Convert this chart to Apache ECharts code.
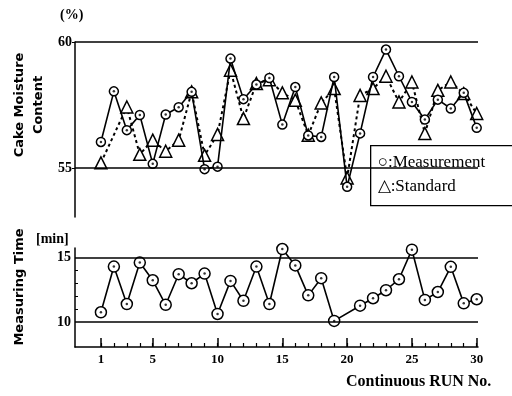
<!DOCTYPE html>
<html>
<head>
<meta charset="UTF-8">
<title>Cake moisture</title>
<script src="https://cdn.jsdelivr.net/npm/echarts@6/dist/echarts.min.js"></script>
<style>
  html, body { margin: 0; padding: 0; background: #fff; }
  #main { width: 512px; height: 396px; }
</style>
</head>
<body>
<div id="main"></div>
<script>
// run numbers (x axis)
var runs = [1, 2, 3, 4, 5, 6, 7, 8, 9, 10, 11, 12, 13, 14, 15, 16, 17, 18, 19, 20, 21, 22, 23, 24, 25, 26, 27, 28, 29, 30];
var runLabels = [1, 5, 10, 15, 20, 25, 30];
// cake moisture content (%)
var measurement = [56.03, 58.04, 56.50, 57.10, 55.16, 57.12, 57.41, 58.02, 54.95, 55.05,
                   59.34, 57.73, 58.31, 58.57, 56.72, 58.21, 56.29, 56.23, 58.61, 54.25,
                   56.37, 58.61, 59.70, 58.64, 57.62, 56.92, 57.71, 57.36, 57.98, 56.59];
var standard = [55.20, null, 57.42, 55.54, 56.10, 55.66, 56.10, 58.02, 55.50, 56.33,
                58.88, 56.96, 58.35, 58.50, 57.98, 57.69, 56.30, 57.58, 58.15, 54.60,
                57.88, 58.15, 58.64, 57.62, 58.41, 56.37, 58.08, 58.41, 57.95, 57.16];
var moistureTicks = [55, 60];
// measuring time (min)
var measTime = [10.77, 14.31, 11.41, 14.62, 13.25, 11.35, 13.72, 13.02, 13.77, 10.64,
                13.20, 11.66, 14.31, 11.41, 15.67, 14.40, 12.08, 13.41, 10.10, null,
                11.28, 11.86, 12.48, 13.33, 15.62, 11.73, 12.34, 14.29, 11.46, 11.78];
var timeTicks = [10, 15];
var timeMinor = [11, 12, 13, 14];

function pairs(vals) {
    return runs.map(function (r, i) { return [r, vals[i]]; });
}

var serif = 'Liberation Serif';
var sans = 'DejaVu Sans';

var chart = echarts.init(document.getElementById('main'));

chart.setOption({
    animation: false,
    grid: [
        { left: 75, top: 42, width: 403, height: 175 },
        { left: 75, top: 248, width: 403, height: 99 }
    ],
    xAxis: [
        { gridIndex: 0, type: 'value', min: -1, max: 30.1, show: false },
        {
            gridIndex: 1, type: 'value', min: -1, max: 30.1, position: 'bottom',
            splitLine: { show: false },
            axisLine: { onZero: false, lineStyle: { color: '#000', width: 1.5 } },
            axisTick: { customValues: runLabels, inside: true, length: 9, lineStyle: { color: '#000', width: 1.5 } },
            axisLabel: { customValues: runLabels, color: '#000', fontFamily: serif, fontWeight: 'bold', fontSize: 13, margin: 6 }
        },
        {
            gridIndex: 1, type: 'value', min: -1, max: 30.1, position: 'bottom',
            splitLine: { show: false },
            axisLine: { show: false, onZero: false },
            axisTick: { customValues: runs, inside: true, length: 4, lineStyle: { color: '#000', width: 1.2 } },
            axisLabel: { show: false }
        }
    ],
    yAxis: [
        {
            gridIndex: 0, type: 'value', min: 53.05, max: 60,
            splitLine: { show: false },
            axisLine: { show: true, onZero: false, lineStyle: { color: '#000', width: 1.5 } },
            axisTick: { customValues: moistureTicks, length: 3, lineStyle: { color: '#000' } },
            axisLabel: { customValues: moistureTicks, color: '#000', fontFamily: serif, fontWeight: 'bold', fontSize: 14, margin: 3 }
        },
        {
            gridIndex: 1, type: 'value', min: 8.08, max: 15.75,
            splitLine: { show: false },
            axisLine: { show: true, onZero: false, lineStyle: { color: '#000', width: 1.5 } },
            axisTick: { customValues: timeMinor, inside: true, length: 3, lineStyle: { color: '#000' } },
            axisLabel: { customValues: timeTicks, color: '#000', fontFamily: serif, fontWeight: 'bold', fontSize: 14, margin: 4 }
        }
    ],
    series: [
        {
            name: 'Standard', type: 'line', xAxisIndex: 0, yAxisIndex: 0,
            data: pairs(standard), connectNulls: true, clip: false, z: 2,
            symbol: 'triangle', symbolSize: 12,
            itemStyle: { color: '#fff', borderColor: '#000', borderWidth: 1.5 },
            lineStyle: { color: '#000', width: 2, type: [3, 3] }
        },
        {
            name: 'Measurement', type: 'line', xAxisIndex: 0, yAxisIndex: 0,
            data: pairs(measurement), clip: false, z: 3,
            symbol: 'circle', symbolSize: 9,
            itemStyle: { color: '#fff', borderColor: '#000', borderWidth: 1.5 },
            lineStyle: { color: '#000', width: 1.6 },
            markLine: {
                silent: true, symbol: 'none', label: { show: false },
                lineStyle: { color: '#000', width: 1.5, type: 'solid' },
                data: moistureTicks.map(function (v) { return { yAxis: v }; })
            }
        },
        {
            type: 'scatter', xAxisIndex: 0, yAxisIndex: 0, data: pairs(measurement),
            symbolSize: 2.5, itemStyle: { color: '#000' }, z: 4, clip: false
        },
        {
            name: 'Time', type: 'line', xAxisIndex: 1, yAxisIndex: 1,
            data: pairs(measTime), connectNulls: true, clip: false, z: 3,
            symbol: 'circle', symbolSize: 11,
            itemStyle: { color: '#fff', borderColor: '#000', borderWidth: 1.5 },
            lineStyle: { color: '#000', width: 1.6 },
            markLine: {
                silent: true, symbol: 'none', label: { show: false },
                lineStyle: { color: '#000', width: 1.5, type: 'solid' },
                data: timeTicks.map(function (v) { return { yAxis: v }; })
            }
        },
        {
            type: 'scatter', xAxisIndex: 1, yAxisIndex: 1, data: pairs(measTime),
            symbolSize: 2.5, itemStyle: { color: '#000' }, z: 4, clip: false
        }
    ],
    graphic: [
        { type: 'text', left: 60, top: 8, style: { text: '(%)', fontFamily: serif, fontWeight: 'bold', fontSize: 14, fill: '#000' } },
        { type: 'text', left: 36, top: 232, style: { text: '[min]', fontFamily: serif, fontWeight: 'bold', fontSize: 14, fill: '#000' } },
        {
            type: 'text', x: 20, y: 105, rotation: Math.PI / 2,
            style: { text: 'Cake Moisture', fontFamily: sans, fontWeight: 'bold', fontSize: 13, fill: '#000', align: 'center', verticalAlign: 'middle' }
        },
        {
            type: 'text', x: 39, y: 105, rotation: Math.PI / 2,
            style: { text: 'Content', fontFamily: sans, fontWeight: 'bold', fontSize: 13, fill: '#000', align: 'center', verticalAlign: 'middle' }
        },
        {
            type: 'text', x: 20, y: 287, rotation: Math.PI / 2,
            style: { text: 'Measuring Time', fontFamily: sans, fontWeight: 'bold', fontSize: 13, fill: '#000', align: 'center', verticalAlign: 'middle' }
        },
        { type: 'text', left: 346, top: 374, style: { text: 'Continuous RUN No.', fontFamily: serif, fontWeight: 'bold', fontSize: 16, fill: '#000' } },
        // legend box
        {
            type: 'group', left: 370, top: 145, z: 10,
            children: [
                { type: 'rect', shape: { x: 0, y: 0, width: 150, height: 60 }, style: { fill: '#fff', stroke: '#000', lineWidth: 1.3 } },
                { type: 'text', x: 7, y: 8, style: { text: '\u25cb:Measurement', fontFamily: serif, fontSize: 17, fill: '#000' } },
                { type: 'text', x: 7, y: 32, style: { text: '\u25b3:Standard', fontFamily: serif, fontSize: 17, fill: '#000' } }
            ]
        }
    ]
});
</script>
</body>
</html>
